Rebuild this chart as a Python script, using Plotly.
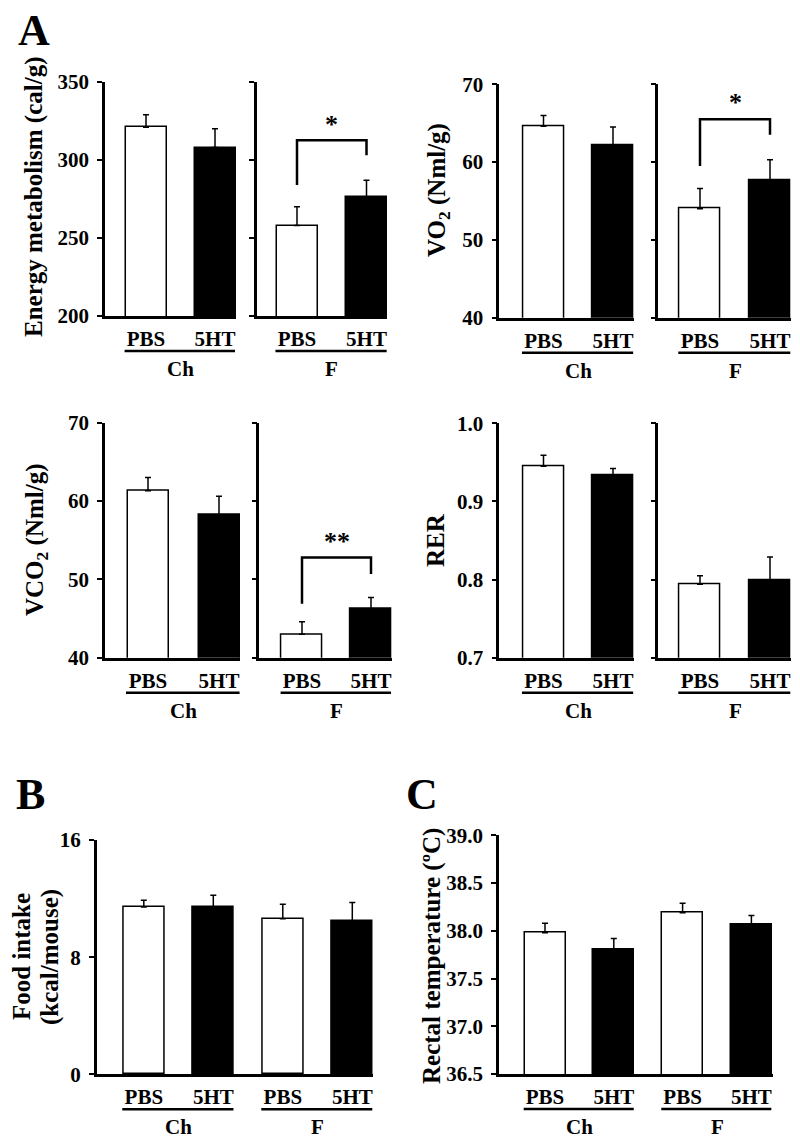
import plotly.graph_objects as go

# ---------------- data ----------------
treatments = ["PBS", "5HT"]
treatments4 = ["PBS", "5HT", "PBS", "5HT"]
diets = ["Ch", "F"]

energy_ch = [321, 308]
energy_ch_err = [8, 12]
energy_f = [258, 276]
energy_f_err = [12, 11]

vo2_ch = [64.6, 62.1]
vo2_ch_err = [1.4, 2.4]
vo2_f = [54.0, 57.7]
vo2_f_err = [2.6, 2.6]

vco2_ch = [61.3, 58.2]
vco2_ch_err = [1.7, 2.4]
vco2_f = [43.0, 46.2]
vco2_f_err = [1.6, 1.5]

rer_ch = [0.945, 0.934]
rer_ch_err = [0.014, 0.008]
rer_f = [0.794, 0.799]
rer_f_err = [0.011, 0.030]

food = [11.42, 11.44, 10.62, 10.44]
food_err = [0.46, 0.78, 1.0, 1.3]

temp = [37.98, 37.81, 38.19, 38.07]
temp_err = [0.10, 0.11, 0.10, 0.09]

# significance brackets (data units): left foot, top, right foot, star level, label
sig_energy = [284, 312.7, 303, 323, "*"]
sig_vo2 = [59.5, 65.5, 63.5, 67.6, "*"]
sig_vco2 = [46.9, 52.8, 50.7, 54.8, "**"]

# ---------------- layout helpers ----------------
W, H = 800, 1139
FONT = "Liberation Serif, Times New Roman, serif"
TICK_SIZE = 21
TITLE_SIZE = 25
BAR_PX = 41

fig = go.Figure()
layout = {}
shapes = []
annotations = []


def px_x(p):
    return p / W


def px_y(p):
    return 1 - p / H


def add_panel(i, means, errs, cats, yr, dtick, fmt, show_ylab, px, py,
              groups=None, sig=None):
    left, right, c0, s = px
    top, bottom = py
    xn = "x" if i == 1 else f"x{i}"
    yn = "y" if i == 1 else f"y{i}"
    n = len(means)
    colors = ["white" if k % 2 == 0 else "black" for k in range(n)]
    fig.add_trace(go.Bar(
        x=list(range(n)), y=means, width=BAR_PX / s,
        marker=dict(color=colors, line=dict(color="black", width=1.5)),
        error_y=dict(type="data", symmetric=False, array=errs,
                     arrayminus=[0] * n, color="black", thickness=1.5, width=3),
        xaxis=xn, yaxis=yn, showlegend=False, hoverinfo="skip"))
    layout["xaxis" if i == 1 else f"xaxis{i}"] = dict(
        domain=[px_x(left), px_x(right)],
        range=[(left - c0) / s, (right - c0) / s],
        anchor=yn, showline=True, linecolor="black", linewidth=2.5,
        tickvals=list(range(n)), ticktext=cats, ticks="",
        showgrid=False, zeroline=False, fixedrange=True, automargin=False,
        tickfont=dict(size=TICK_SIZE), ticklabelstandoff=2)
    layout["yaxis" if i == 1 else f"yaxis{i}"] = dict(
        domain=[px_y(bottom), px_y(top)], range=yr, anchor=xn,
        showline=True, linecolor="black", linewidth=2.5,
        ticks="outside", ticklen=5, tickwidth=2, tickcolor="black",
        tick0=yr[0], dtick=dtick, tickformat=fmt, automargin=False,
        showticklabels=show_ylab, showgrid=False, zeroline=False,
        fixedrange=True, tickfont=dict(size=TICK_SIZE), ticklabelstandoff=4)
    # group underline + label
    if groups:
        for g, name in enumerate(groups):
            a = 2 * g
            shapes.append(dict(type="line", xref=xn, yref="paper",
                               x0=a - 0.31, x1=a + 1.29,
                               y0=px_y(bottom + 35), y1=px_y(bottom + 35),
                               line=dict(color="black", width=2.5)))
            annotations.append(dict(text=name, xref=xn, yref="paper",
                                    x=a + 0.5, y=px_y(bottom + 53),
                                    showarrow=False, xanchor="center",
                                    yanchor="middle",
                                    font=dict(size=TICK_SIZE)))
    if sig:
        lf, tp, rf, st, lab = sig
        shapes.append(dict(type="path", xref=xn, yref=yn,
                           path=f"M 0,{lf} L 0,{tp} L 1,{tp} L 1,{rf}",
                           line=dict(color="black", width=2.5)))
        annotations.append(dict(text=lab, xref=xn, yref=yn, x=0.5, y=st,
                                showarrow=False, xanchor="center",
                                yanchor="middle", font=dict(size=26)))


# Panel A
add_panel(1, energy_ch, energy_ch_err, treatments, [200, 350], 50, "d", True,
          (105, 236, 146, 69), (82, 316), groups=[diets[0]])
add_panel(2, energy_f, energy_f_err, treatments, [200, 350], 50, "d", False,
          (257, 387, 297, 69.5), (82, 316), groups=[diets[1]], sig=sig_energy)
add_panel(3, vo2_ch, vo2_ch_err, treatments, [40, 70], 10, "d", True,
          (499.3, 634, 543.5, 69.5), (84.3, 317.7), groups=[diets[0]])
add_panel(4, vo2_f, vo2_f_err, treatments, [40, 70], 10, "d", False,
          (658.3, 791, 700, 70), (84.3, 317.7), groups=[diets[1]], sig=sig_vo2)
add_panel(5, vco2_ch, vco2_ch_err, treatments, [40, 70], 10, "d", True,
          (105, 240, 148, 71), (422.7, 657.7), groups=[diets[0]])
add_panel(6, vco2_f, vco2_f_err, treatments, [40, 70], 10, "d", False,
          (259.3, 392, 302, 69), (422.7, 657.7), groups=[diets[1]], sig=sig_vco2)
add_panel(7, rer_ch, rer_ch_err, treatments, [0.7, 1.0], 0.1, ".1f", True,
          (499.3, 634, 543.5, 69.5), (423.3, 657.7), groups=[diets[0]])
add_panel(8, rer_f, rer_f_err, treatments, [0.7, 1.0], 0.1, ".1f", False,
          (658.3, 791, 700, 70), (423.3, 657.7), groups=[diets[1]])
# Panel B
add_panel(9, food, food_err, treatments4, [0, 16], 8, "d", True,
          (96.7, 372.7, 143.8, 69.5), (840, 1074.3), groups=diets)
# Panel C
add_panel(10, temp, temp_err, treatments4, [36.5, 39.0], 0.5, ".1f", True,
          (499, 772.7, 545, 68.8), (835.4, 1074), groups=diets)

# y-axis titles
ytitles = [
    ("Energy metabolism (cal/g)", 34, 197),
    ("VO<sub>2</sub> (Nml/g)", 438, 190),
    ("VCO<sub>2</sub> (Nml/g)", 36, 540),
    ("RER", 435, 540),
    ("Food intake", 21, 957),
    ("(kcal/mouse)", 50, 957),
    ("Rectal temperature (ºC)", 432, 956),
]
for t, x, y in ytitles:
    annotations.append(dict(text=t, xref="paper", yref="paper", x=px_x(x),
                            y=px_y(y), textangle=-90, showarrow=False,
                            xanchor="center", yanchor="middle",
                            font=dict(size=TITLE_SIZE)))

# panel letters
for t, x, y in [("A", 16, 4), ("B", 14, 768), ("C", 404, 768)]:
    annotations.append(dict(text=t, xref="paper", yref="paper", x=px_x(x),
                            y=px_y(y), showarrow=False, xanchor="left",
                            yanchor="top", font=dict(size=44)))

fig.update_layout(
    template="none",
    width=W, height=H,
    margin=dict(l=0, r=0, t=0, b=0, pad=0, autoexpand=False),
    paper_bgcolor="white", plot_bgcolor="white", showlegend=False,
    bargap=0,
    font=dict(family=FONT, size=TICK_SIZE, color="black", weight="bold"),
    shapes=shapes, annotations=annotations, **layout)

fig.write_html(
    "out.html",
    config={"displayModeBar": False},
    post_script="document.body.style.margin='0px';"
                "document.body.style.overflow='hidden';")
